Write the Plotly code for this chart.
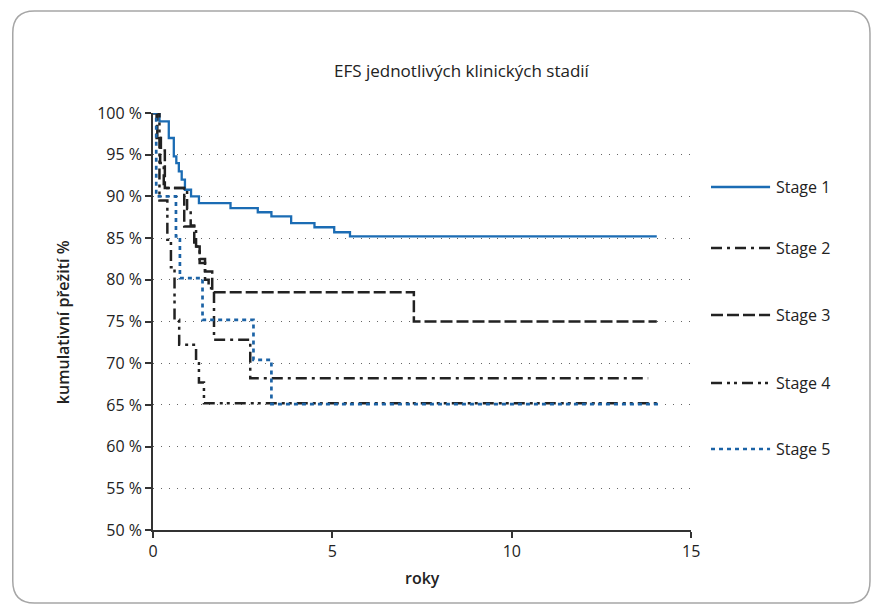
import plotly.graph_objects as go

# ---- data ----
stage1_t = [0, 0.18, 0.44, 0.58, 0.65, 0.72, 0.80, 0.89, 1.06, 1.28, 2.16, 2.92, 3.30, 3.85, 4.50, 5.05, 5.49, 14.04]
stage1_s = [100, 99, 97, 94.8, 94, 93, 92, 90.8, 90, 89.2, 88.6, 88.1, 87.6, 86.8, 86.3, 85.7, 85.2, 85.2]

stage2_t = [0, 0.10, 0.20, 0.30, 0.95, 1.05, 1.20, 1.30, 1.45, 1.55, 1.70, 2.71, 13.8]
stage2_s = [100, 97, 94, 91, 88.5, 86.5, 84, 82, 80, 79, 72.8, 68.2, 68.2]

stage3_t = [0, 0.12, 0.22, 0.33, 0.87, 1.15, 1.30, 1.45, 1.65, 7.27, 14.04]
stage3_s = [100, 97, 95.5, 91, 86.4, 84, 82.5, 81, 78.5, 75, 75]

stage4_t = [0, 0.18, 0.40, 0.50, 0.60, 0.73, 1.20, 1.28, 1.42, 14.1]
stage4_s = [100, 89.5, 84.8, 81.5, 75.2, 72.2, 70, 67.7, 65.2, 65.2]

stage5_t = [0, 0.09, 0.64, 0.75, 1.38, 2.80, 3.30, 14.13]
stage5_s = [100, 90, 85.2, 80.2, 75.2, 70.4, 65.1, 65.1]

names = ["Stage 1", "Stage 2", "Stage 3", "Stage 4", "Stage 5"]
x_ticks = [0, 5, 10, 15]
y_ticks = [50, 55, 60, 65, 70, 75, 80, 85, 90, 95, 100]
y_tick_labels = [f"{v} %" for v in y_ticks]

title_text = "EFS jednotlivých klinických stadií"
x_title = "roky"
y_title = "kumulativní přežití %"

# ---- styles ----
FONT = "Open Sans"
BLUE = "#1b6cb4"
BLUE_DOT = "#1c63a6"
BLACK = "#222222"
styles = [
    dict(color=BLUE, width=2.3, dash="solid"),
    dict(color=BLACK, width=2.5, dash="11px,5px,3px,5px"),
    dict(color=BLACK, width=2.5, dash="12px,4px"),
    dict(color=BLACK, width=2.5, dash="11px,5px,3px,4px,3px,5px"),
    dict(color=BLUE_DOT, width=2.7, dash="4px,4px"),
]
series = [(stage1_t, stage1_s), (stage2_t, stage2_s), (stage3_t, stage3_s),
          (stage4_t, stage4_s), (stage5_t, stage5_s)]

W, H = 886, 607
L, R, T, B = 153, 8, 113, 77
PW, PH = W - L - R, H - T - B

def px(xp):
    return (xp - L) / PW

def py(yp):
    return (H - B - yp) / PH

fig = go.Figure()
for (t, s), st, nm in zip(series, styles, names):
    fig.add_trace(go.Scatter(x=t, y=s, mode="lines", line=dict(shape="hv", **st),
                             name=nm, showlegend=False, cliponaxis=False,
                             xaxis="x", yaxis="y"))

# manual legend on a helper axis in the right part of the figure
legend_rows = [187, 248, 315, 383, 449]
for st, nm, row in zip(styles, names, legend_rows):
    fig.add_trace(go.Scatter(x=[0, 1], y=[row, row], mode="lines", line=st,
                             showlegend=False, hoverinfo="skip", cliponaxis=False,
                             xaxis="x2", yaxis="y2"))

annotations = []
for nm, row in zip(names, legend_rows):
    annotations.append(dict(text=nm, xref="x2", yref="y2", x=1, y=row, xanchor="left",
                            yanchor="middle", xshift=4, showarrow=False,
                            font=dict(family=FONT, size=16, color=BLACK)))
annotations.append(dict(text=title_text, xref="paper", yref="paper", x=px(466), y=py(70),
                        xanchor="center", yanchor="middle", showarrow=False,
                        font=dict(family=FONT, size=17, color=BLACK)))
annotations.append(dict(text=x_title, xref="paper", yref="paper", x=px(426), y=py(578),
                        xanchor="center", yanchor="middle", showarrow=False,
                        font=dict(family=FONT, size=16, color=BLACK, weight=600)))
annotations.append(dict(text=y_title, xref="paper", yref="paper", x=px(62), y=py(322),
                        xanchor="center", yanchor="middle", showarrow=False, textangle=-90,
                        font=dict(family=FONT, size=16, color=BLACK, weight=600)))

# rounded card border
x0, x1 = px(11), px(879)
y0, y1 = py(603), py(11)
rx, ry = 22 / PW, 22 / PH
card = (f"M {x0+rx},{y1} L {x1-rx},{y1} Q {x1},{y1} {x1},{y1-ry} "
        f"L {x1},{y0+ry} Q {x1},{y0} {x1-rx},{y0} L {x0+rx},{y0} "
        f"Q {x0},{y0} {x0},{y0+ry} L {x0},{y1-ry} Q {x0},{y1} {x0+rx},{y1} Z")

fig.update_layout(
    width=W, height=H,
    margin=dict(l=L, r=R, t=T, b=B),
    paper_bgcolor="white", plot_bgcolor="white",
    font=dict(family=FONT, size=16, color=BLACK),
    showlegend=False,
    annotations=annotations,
    shapes=[dict(type="path", path=card, xref="paper", yref="paper",
                 line=dict(color="#a6a6a6", width=1.5), layer="below")],
    xaxis=dict(domain=[0, px(698)], range=[0, 15], tickvals=x_ticks,
               showgrid=False, zeroline=False, showline=True, linecolor="#333333",
               linewidth=1.5, ticks="outside", ticklen=6, tickwidth=1.5, tickcolor="#333333",
               tickfont=dict(family=FONT, size=16, color=BLACK)),
    yaxis=dict(range=[50, 100], tickmode="array", tickvals=y_ticks, ticktext=y_tick_labels,
               showgrid=True, gridcolor="#666666", gridwidth=1, griddash="1px,7px",
               zeroline=False, showline=True, linecolor="#333333", linewidth=1.5,
               ticks="outside", ticklen=6, tickwidth=1.5, tickcolor="#333333",
               tickfont=dict(family=FONT, size=16, color=BLACK)),
    xaxis2=dict(domain=[px(718), px(778)], range=[0, 1], visible=False, anchor="y2"),
    yaxis2=dict(domain=[0, 1], range=[H - B, T], visible=False, anchor="x2"),
)

fig.write_html("out.html", config={"displayModeBar": False},
               post_script="document.body.style.margin='0';document.body.style.overflow='hidden';")
